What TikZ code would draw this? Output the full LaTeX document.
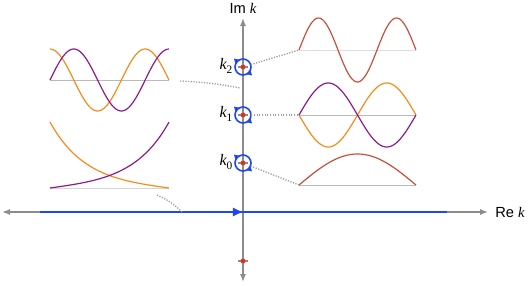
\documentclass[tikz,border=0pt]{standalone}
\usepackage{fontspec}
\setmainfont{Liberation Sans}
\newfontfamily\tms{Liberation Serif}
\usetikzlibrary{decorations.markings,arrows,arrows.meta}
\definecolor{axgray}{HTML}{8C8C8C}
\definecolor{wblue}{HTML}{1F45F5}
\definecolor{wred}{HTML}{C8503A}
\definecolor{worange}{HTML}{F58C1E}
\definecolor{wpurple}{HTML}{8C1C8C}
\definecolor{pole}{HTML}{EE2A1A}
\newcommand{\kl}[1]{{\tms\itshape k}\raisebox{-0.45ex}{\tms\fontsize{8.5}{9}\selectfont #1}}

\begin{document}
\begin{tikzpicture}[x=0.75pt,y=-0.75pt,
  axis/.style={axgray, line width=1pt, {Latex[length=6pt,width=4.5pt]}-{Latex[length=6pt,width=4.5pt]}},
  ring/.style={circle, inner sep=0pt, minimum size=12pt},
  loop/.style={wblue, line width=1.2pt, postaction={decorate},
    decoration={markings,
      mark=at position 0.2 with {\arrow{Latex[length=4.5pt,width=4.5pt]}},
      mark=at position 0.7 with {\arrow{Latex[length=4.5pt,width=4.5pt]}}}},
  link/.style={axgray!85, line width=1pt, dash pattern=on 0.9pt off 1.1pt},
  base/.style={axgray!60, line width=0.7pt},
  wave/.style={line width=0.9pt, domain=0:1, samples=80, smooth}]
\useasboundingbox (0,0) rectangle (528,286);

\coordinate (W) at (2,212);
\coordinate (E) at (488,212);
\coordinate (S) at (243,282);
\coordinate (N) at (243,18);
\draw[axis] (W) -- (E);
\draw[axis] (S) -- (N);
\node (re) at (510,212) {\fontsize{11}{13}\selectfont Re {\tms\itshape k}};
\node (im) at (243,8) {\fontsize{11}{13}\selectfont Im {\tms\itshape k}};

\coordinate (A) at (40,212);
\coordinate (B) at (447,212);
\draw[wblue, line width=1.9pt, postaction={decorate},
  decoration={markings, mark=at position 0.5 with {\arrow{Latex[length=8pt,width=7pt]}}}] (A) -- (B);

\node[ring] (c2) at (243,67) {};
\node[ring] (c1) at (243,115) {};
\node[ring] (c0) at (243,163) {};
\node[ring] (cm) at (243,261) {};

\foreach \c in {c2,c1,c0,cm}
  \draw[axgray, line width=0.8pt] ([xshift=-4pt]\c.center) -- ([xshift=4pt]\c.center);
\foreach \c in {c2,c1,c0}
  \draw[loop] (\c) circle (8);
\foreach \c in {c2,c1,c0,cm}
  \fill[pole] (\c) circle (2.4);

\node (t2) at (226,66) {\fontsize{12}{14}\selectfont\kl{2}};
\node (t1) at (226,114) {\fontsize{12}{14}\selectfont\kl{1}};
\node (t0) at (226,162) {\fontsize{12}{14}\selectfont\kl{0}};

% right panels
\coordinate (r2) at (299,50);
\coordinate (r1) at (299,115);
\coordinate (r0) at (299,185);
\draw[base, axgray!30] (r2) -- ++(117,0);
\draw[base] (r1) -- ++(117,0);
\draw[base] (r0) -- ++(117,0);
\draw[wave, wred] plot ({299+117*\x},{50-32*sin(540*\x)});
\draw[wave, worange] plot ({299+117*\x},{115+32*sin(360*\x)});
\draw[wave, wpurple] plot ({299+117*\x},{115-32*sin(360*\x)});
\draw[wave, wred] plot ({299+117*\x},{185-31*sin(180*\x)});

% left panels
\coordinate (l2) at (50,80);
\coordinate (l0) at (50,188);
\draw[base] (l2) -- ++(119,0);
\draw[base, axgray!35] (l0) -- ++(119,0);
\draw[wave, worange] plot ({50+119*\x},{80-31*cos(450*\x)});
\draw[wave, wpurple] plot ({50+119*\x},{80-31*sin(450*\x)});
\draw[wave, worange] plot ({50+119*\x},{188-66*(exp(3.25*(1-\x))-exp(-3.25*(1-\x)))/25.77});
\draw[wave, wpurple] plot ({50+119*\x},{188-66*(exp(3.25*\x)-exp(-3.25*\x))/25.77});

\coordinate (m2) at (180,81);
\coordinate (e2) at (240,88);
\coordinate (m0) at (157,195);
\coordinate (e0) at (182,212);
\draw[link] (c2) -- (r2);
\draw[link] (c1) -- (r1);
\draw[link] (c0) -- (r0);
\draw[link] (m2) to[bend left=4] (e2);
\draw[link] (m0) to[bend left=10] (e0);
\end{tikzpicture}
\end{document}
